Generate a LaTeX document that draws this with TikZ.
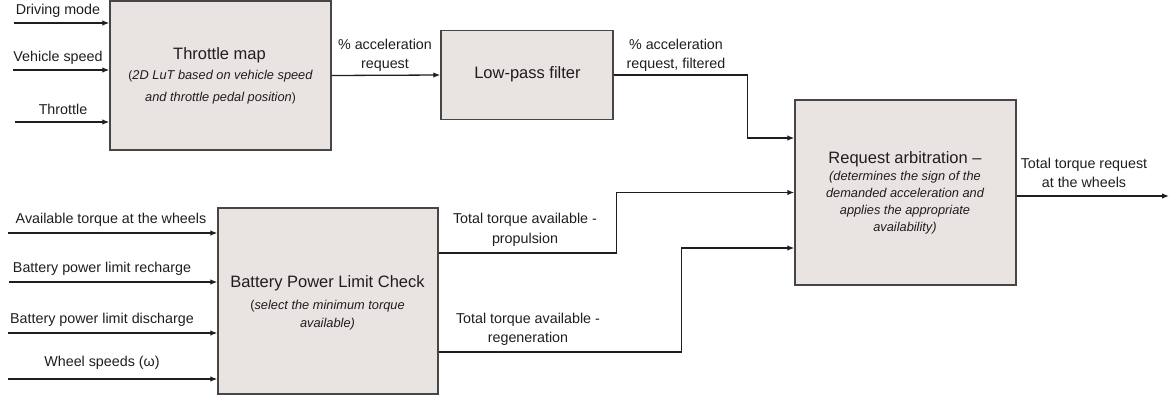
\documentclass[tikz,border=0pt]{standalone}
\usepackage{fontspec}
\setmainfont{Liberation Sans}
\usetikzlibrary{arrows.meta}
\definecolor{blkfill}{RGB}{233,228,225}
\definecolor{ink}{RGB}{30,30,30}
\definecolor{edge}{RGB}{70,70,70}
\begin{document}
\begin{tikzpicture}[x=1pt,y=-1pt,
  blk/.style={draw=edge, fill=blkfill, line width=1.4pt, inner sep=0pt},
  arr/.style={draw=ink, line width=1.3pt, -{Latex[length=7pt,width=5.5pt]}},
  lbl/.style={text=ink, font=\fontsize{14.3}{19.5}\selectfont, align=center, inner sep=0pt},
  ttl/.style={text=ink, font=\fontsize{16.5}{20}\selectfont, inner sep=0pt},
  note/.style={text=ink, font=\fontsize{12.8}{17}\selectfont\itshape, align=center, inner sep=0pt}]
\useasboundingbox (0,0) rectangle (1173,400);

% blocks
\node[blk, minimum width=221pt, minimum height=149pt] (tm) at (220.5,75.5) {};
\node[blk, minimum width=172pt, minimum height=89pt] (lpf) at (527,75) {};
\node[blk, minimum width=221pt, minimum height=185pt] (ra) at (905.5,192.5) {};
\node[blk, minimum width=220pt, minimum height=186pt] (bp) at (328,301) {};

% block texts
\node[ttl] (tmt) at (219.5,55) {Throttle map};
\node[note, font=\fontsize{12.8}{22}\selectfont\itshape] (tmn) at (220.5,87)
  {{\upshape\large(}2D LuT based on vehicle speed\\and throttle pedal position{\upshape\large)}};
\node[ttl] (lpft) at (527.5,74) {Low-pass filter};
\node[ttl] (rat) at (905,159) {Request arbitration --};
\node[note] (ran) at (905,203)
  {(determines the sign of the\\demanded acceleration and\\applies the appropriate\\availability)};
\node[ttl] (bpt) at (327.5,283) {Battery Power Limit Check};
\node[note, font=\fontsize{12.8}{18}\selectfont\itshape] (bpn) at (327.5,315)
  {{\upshape(}select the minimum torque\\available)};

% inputs of the throttle map
\coordinate (i1) at (14,23);
\coordinate (i2) at (13,70);
\coordinate (i3) at (15,122);
\draw[arr] (i1) -- (i1 -| tm.west);
\draw[arr] (i2) -- (i2 -| tm.west);
\draw[arr] (i3) -- (i3 -| tm.west);
\node[lbl] (l1) at (58,11) {Driving mode};
\node[lbl] (l2) at (58,58) {Vehicle speed};
\node[lbl] (l3) at (63,109) {Throttle};

% inputs of the battery power limit check
\coordinate (j1) at (8,233);
\coordinate (j2) at (9,282);
\coordinate (j3) at (8,333);
\coordinate (j4) at (8,379);
\draw[arr] (j1) -- (j1 -| bp.west);
\draw[arr] (j2) -- (j2 -| bp.west);
\draw[arr] (j3) -- (j3 -| bp.west);
\draw[arr] (j4) -- (j4 -| bp.west);
\node[lbl] (k1) at (111,220) {Available torque at the wheels};
\node[lbl] (k2) at (102,269) {Battery power limit recharge};
\node[lbl] (k3) at (102,320) {Battery power limit discharge};
\node[lbl] (k4) at (102,363) {Wheel speeds (ω)};

% throttle map -> low-pass filter -> request arbitration
\draw[arr] (tm.east) -- (lpf.west);
\node[lbl] (acc) at (385,55.5) {\% acceleration\\request};
\draw[arr] (lpf.east) -- ++(134,0) |- ([yshift=54.5pt]ra.west);
\node[lbl] (accf) at (676,55.5) {\% acceleration\\request, filtered};

% battery limits -> request arbitration
\draw[arr] ([yshift=48pt]bp.east) -- ++(178,0) |- (ra.west);
\node[lbl] (prop) at (525,230) {Total torque available -\\propulsion};
\draw[arr] ([yshift=-51pt]bp.east) -- ++(243,0) |- ([yshift=-55.5pt]ra.west);
\node[lbl] (regen) at (528,329.5) {Total torque available -\\regeneration};

% output
\coordinate (out) at (1169,196);
\draw[arr] (ra.east |- out) -- (out);
\node[lbl] (outl) at (1084,173) {Total torque request\\at the wheels};
\end{tikzpicture}
\end{document}
